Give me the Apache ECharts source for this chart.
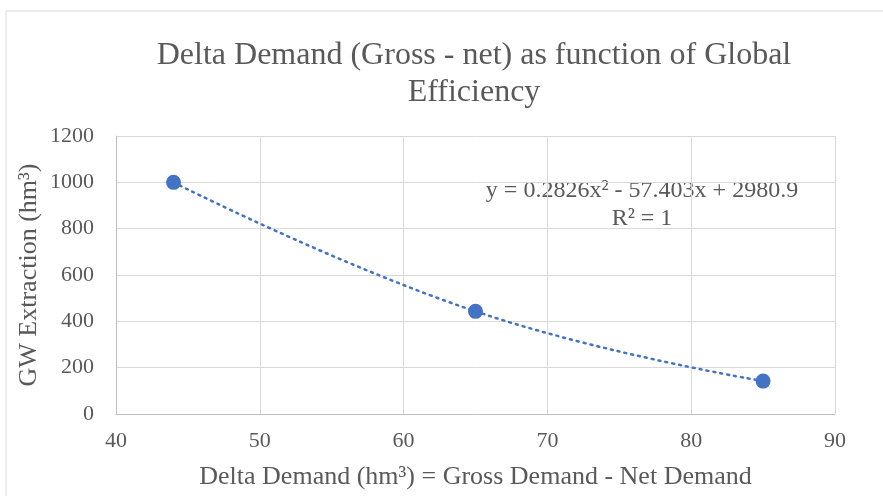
<!DOCTYPE html>
<html>
<head>
<meta charset="utf-8">
<script src="https://cdn.jsdelivr.net/npm/echarts@6/dist/echarts.min.js"></script>
<style>
  html, body { margin: 0; padding: 0; background: #fff; }
  #chart_box { width: 883px; height: 496px; }
</style>
</head>
<body>
<div id="chart_box"></div>
<script>
// data
const deltaDemand = [44, 65, 85];
const gwExtraction = [1000, 443, 142];
const xTicks = [40, 50, 60, 70, 80, 90];
const yTicks = [0, 200, 400, 600, 800, 1000, 1200];
const trendLabel = ["y = 0.2826x² - 57.403x + 2980.9", "R² = 1"];

const points = deltaDemand.map((x, i) => [x, gwExtraction[i]]);
const txt = "#595959";
const font = "Liberation Serif";

const myChart = echarts.init(document.getElementById("chart_box"));
myChart.setOption({
  animation: false,
  textStyle: { fontFamily: font },
  title: {
    text: "Delta Demand (Gross - net) as function of Global\nEfficiency",
    left: 469,
    textAlign: "center",
    top: 32,
    textStyle: { fontFamily: font, fontWeight: "normal", fontSize: 32, color: txt, lineHeight: 37 },
  },
  grid: { left: 116, right: 48, top: 136, bottom: 82 },
  xAxis: {
    type: "value",
    min: xTicks[0],
    max: xTicks[xTicks.length - 1],
    interval: 10,
    name: "Delta Demand (hm³) = Gross Demand - Net Demand",
    nameLocation: "middle",
    nameGap: 50,
    nameMoveOverlap: false,
    nameTextStyle: { fontFamily: font, fontSize: 26, color: txt },
    axisLine: { lineStyle: { color: "#bfbfbf" } },
    axisTick: { show: false },
    axisLabel: { fontFamily: font, fontSize: 22, color: txt, margin: 16 },
    splitLine: { lineStyle: { color: "#d9d9d9" } },
  },
  yAxis: {
    type: "value",
    min: yTicks[0],
    max: yTicks[yTicks.length - 1],
    interval: 200,
    name: "GW Extraction (hm³)",
    nameLocation: "middle",
    nameGap: 74,
    nameMoveOverlap: false,
    nameTextStyle: { fontFamily: font, fontSize: 26, color: txt },
    axisLine: { show: true, lineStyle: { color: "#bfbfbf" } },
    axisTick: { show: false },
    axisLabel: { fontFamily: font, fontSize: 22, color: txt, margin: 22, formatter: (v) => String(v) },
    splitLine: { lineStyle: { color: "#d9d9d9" } },
  },
  graphic: [
    {
      type: "rect",
      shape: { x: 6, y: 11, width: 900, height: 500 },
      style: { fill: "none", stroke: "#d9d9d9", lineWidth: 1 },
      silent: true,
    },
    {
      type: "text",
      x: 642, y: 191,
      style: { text: trendLabel[0], font: "24px " + font, fill: txt, textAlign: "center", textVerticalAlign: "middle" },
    },
    {
      type: "text",
      x: 642, y: 219,
      style: { text: trendLabel[1], font: "24px " + font, fill: txt, textAlign: "center", textVerticalAlign: "middle" },
    },
  ],
  series: [
    {
      name: "trend",
      type: "line",
      data: points,
      smooth: 0.45,
      showSymbol: false,
      lineStyle: { color: "#4472C4", width: 2.5, type: [2, 5], cap: "round" },
      z: 2,
    },
    {
      name: "GW",
      type: "scatter",
      data: points,
      symbolSize: 15,
      itemStyle: { color: "#4472C4", opacity: 1 },
      z: 3,
    },
  ],
});
</script>
</body>
</html>
